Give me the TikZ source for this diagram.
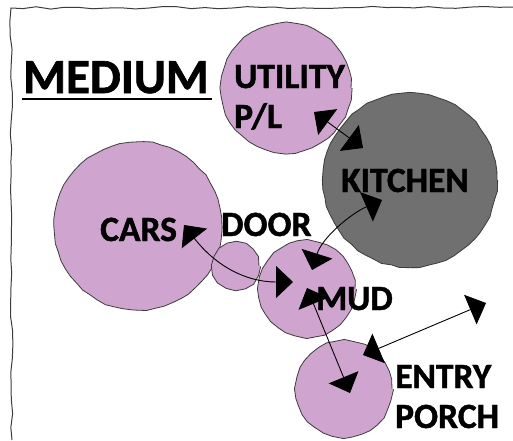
\documentclass[tikz,border=0pt]{standalone}
\usepackage{fontspec}
\setmainfont{Carlito}[BoldFeatures={FakeBold=1.3}]
\usetikzlibrary{arrows.meta,decorations.pathmorphing,calc}
\definecolor{roomfill}{RGB}{207,165,207}
\definecolor{kitchenfill}{RGB}{112,112,112}
\definecolor{edgegray}{RGB}{60,60,60}
\begin{document}
\begin{tikzpicture}[x=1pt,y=-1pt,
  room/.style={circle, draw=edgegray, line width=0.8pt, fill=roomfill, inner sep=0pt,
    decorate, decoration={random steps, segment length=9pt, amplitude=0.7pt}},
  lbl/.style={anchor=base west, inner sep=0pt, font=\fontsize{35.5}{40}\selectfont\bfseries},
  conn/.style={draw=black, line width=0.9pt,
    {Triangle[length=17pt,width=32pt]}-{Triangle[length=17pt,width=32pt]}}
]
\pgfmathsetseed{7}
\useasboundingbox (0,0) rectangle (513,440);
\fill[white] (0,0) rectangle (513,440);
% sketchy frame
\draw[edgegray, line width=1pt, decorate, decoration={random steps, segment length=14pt, amplitude=1.2pt}]
  (513,7) -- (11,8) -- (12,440);
% rooms
\node[room, minimum size=130pt] (util) at (286,88) {};
\node[room, minimum size=174pt, fill=kitchenfill] (kitchen) at (410,180) {};
\node[room, minimum size=168pt] (cars) at (138,226) {};
\node[room, minimum size=46pt] (door) at (236,266) {};
\node[room, minimum size=96pt] (mud) at (307,289) {};
\node[room, minimum size=96pt] (entry) at (344,389) {};
% arrow ends
\coordinate (uA) at (314,112);
\coordinate (kA) at (363,148);
\coordinate (cA) at (184,225);
\coordinate (mA) at (293,282);
\coordinate (mB) at (312,270);
\coordinate (kB) at (382,200);
\coordinate (mC) at (307,288);
\coordinate (eA) at (350,393);
\coordinate (eB) at (363,355);
\coordinate (out) at (486,303);
% connectors
\draw[conn] (uA) -- (kA);
\draw[conn] (cA) .. controls (215,265) and (245,282) .. (mA);
\draw[conn] (mB) .. controls (322,238) and (350,214) .. (kB);
\draw[conn] (mC) -- (eA);
\draw[conn] (eB) -- (out);
% labels
\node[anchor=base west, inner sep=0pt, font=\fontsize{49}{54}\selectfont\bfseries] (medium) at (23,93) {MEDIUM};
\draw[black, line width=2.5pt] ($(medium.base west)+(-1,6)$) -- ($(medium.base east)+(3,6)$);
\node[lbl] (tutil) at (234,88) {UTILITY};
\node[lbl] (tpl) at (234,128) {P/L};
\node[lbl] (tkit) at (341,192) {KITCHEN};
\node[lbl] (tcars) at (100,241) {CARS};
\node[lbl] (tdoor) at (221,236) {DOOR};
\node[lbl] (tmud) at (316,310) {MUD};
\node[lbl] (tentry) at (395,388) {ENTRY};
\node[lbl] (tporch) at (395,428) {PORCH};
\end{tikzpicture}
\end{document}
